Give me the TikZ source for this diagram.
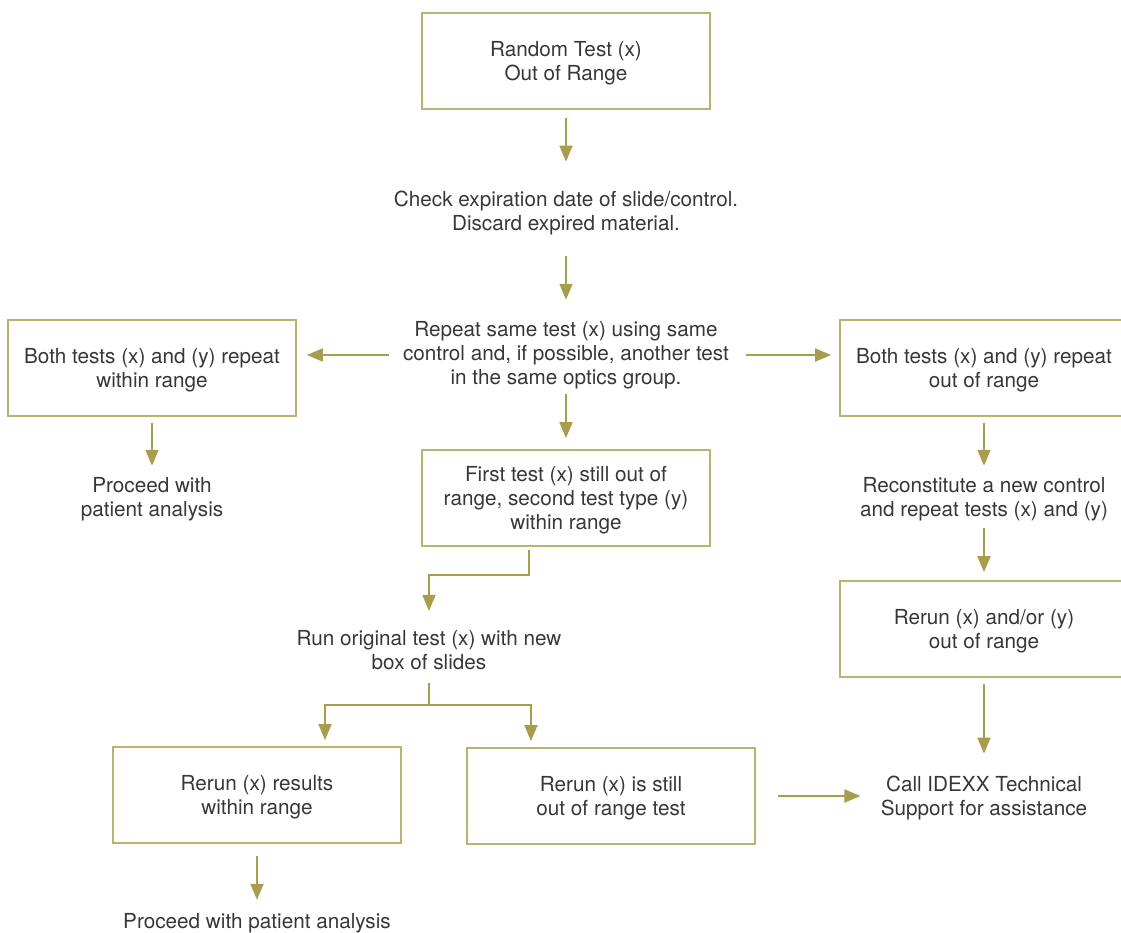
\documentclass[tikz,border=0pt]{standalone}
\usepackage{fontspec}
\setmainfont{TeX Gyre Heros}
\usepackage{tikz}
\usetikzlibrary{arrows.meta}

\definecolor{boxline}{RGB}{186,178,112}
\definecolor{arrowc}{RGB}{166,158,76}
\definecolor{textc}{RGB}{55,55,55}

\tikzset{
  stepbox/.style={draw=boxline, line width=0.9pt, minimum width=144pt,
    minimum height=48pt, inner sep=0pt, align=center, text=textc,
    text depth=-2pt},
  note/.style={inner sep=0pt, align=center, text=textc},
  flow/.style={draw=arrowc, line width=0.9pt, -{Triangle[length=8pt,width=6.5pt]}},
  plain/.style={draw=arrowc, line width=0.9pt}
}

\begin{document}
\begin{tikzpicture}[x=0.5pt, y=-0.5pt, font=\fontsize{10.35}{12}\selectfont]
  \useasboundingbox (0,0) rectangle (1121,933);

  % Top of the chart
  \node[stepbox] (random) at (566,61) {Random Test (x)\\Out of Range};
  \node[note] (check) at (566,213) {Check expiration date of slide/control.\\Discard expired material.};
  \node[note] (repeat) at (566,355) {Repeat same test (x) using same\\control and, if possible, another test\\in the same optics group.};

  % Left branch
  \node[stepbox] (bothin) at (152,368) {Both tests (x) and (y) repeat\\within range};
  \node[note] (proceedA) at (152,499) {Proceed with\\patient analysis};

  % Right branch
  \node[stepbox] (bothout) at (984,368) {Both tests (x) and (y) repeat\\out of range};
  \node[note] (recon) at (984,499) {Reconstitute a new control\\and repeat tests (x) and (y)};
  \node[stepbox] (rerunxy) at (984,629) {Rerun (x) and/or (y)\\out of range};
  \node[note] (call) at (984,798) {Call IDEXX Technical\\Support for assistance};

  % Middle branch
  \node[stepbox] (firstout) at (566,498) {First test (x) still out of\\range, second test type (y)\\within range};
  \node[note] (runorig) at (429,650) {Run original test (x) with new\\box of slides};
  \node[stepbox] (rerunok) at (257,795) {Rerun (x) results\\within range};
  \node[stepbox] (rerunbad) at (611,796) {Rerun (x) is still\\out of range test};
  \node[note] (proceedB) at (257,923) {Proceed with patient analysis};

  \coordinate (split) at (429,705);

  % Connectors
  \draw[flow, shorten <=4pt, shorten >=14.5pt] (random) -- (check);
  \draw[flow, shorten <=10.5pt, shorten >=10.5pt] (check) -- (repeat);
  \draw[flow, shorten <=7pt, shorten >=5pt] (repeat.west) -- (repeat.west -| bothin.east);
  \draw[flow, shorten <=8.5pt, shorten >=4pt] (repeat.east) -- (repeat.east -| bothout.west);
  \draw[flow, shorten <=3pt, shorten >=5.5pt] (bothin) -- (proceedA);
  \draw[flow, shorten <=2.5pt, shorten >=5.5pt] (repeat) -- (firstout);
  \draw[flow, shorten <=1.5pt, shorten >=9.5pt] ([xshift=-18.5pt]firstout.south) -- ++(0,28) -| (runorig.north);
  \draw[plain, shorten <=6.5pt] (runorig.south) -- (split);
  \draw[flow, shorten >=3pt] (split) -| ([xshift=34pt]rerunok.north);
  \draw[flow, shorten >=3pt] (split) -| ([xshift=-40pt]rerunbad.north);
  \draw[flow, shorten <=6pt, shorten >=6.5pt] (rerunok) -- (proceedB);
  \draw[flow, shorten <=11pt, shorten >=10pt] (rerunbad.east) -- (rerunbad.east -| call.west);
  \draw[flow, shorten <=3pt, shorten >=5.5pt] (bothout) -- (recon);
  \draw[flow, shorten <=3.5pt, shorten >=4pt] (recon) -- (rerunxy);
  \draw[flow, shorten <=3pt, shorten >=11pt] (rerunxy) -- (call);
\end{tikzpicture}
\end{document}
